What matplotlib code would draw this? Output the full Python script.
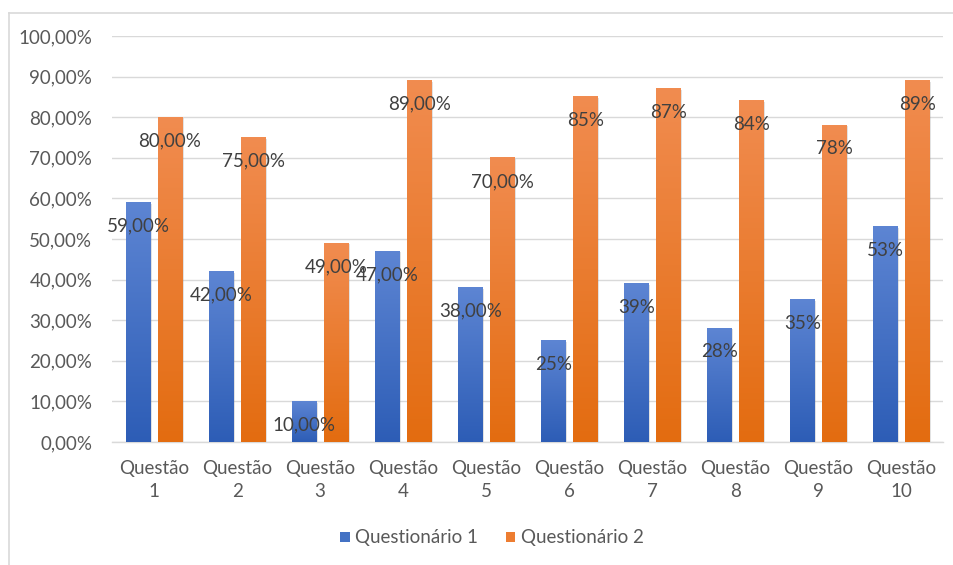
import numpy as np
import matplotlib
matplotlib.use("Agg")
import matplotlib.pyplot as plt
from matplotlib.colors import LinearSegmentedColormap
from matplotlib.lines import Line2D
from matplotlib.patches import Patch
import matplotlib.patheffects as pe

plt.rcParams['font.family'] = ['Lato', 'DejaVu Sans']

categories = ["Questão\n1", "Questão\n2", "Questão\n3", "Questão\n4", "Questão\n5",
              "Questão\n6", "Questão\n7", "Questão\n8", "Questão\n9", "Questão\n10"]
q1 = [0.59, 0.42, 0.10, 0.47, 0.38, 0.25, 0.39, 0.28, 0.35, 0.53]
q2 = [0.80, 0.75, 0.49, 0.89, 0.70, 0.85, 0.87, 0.84, 0.78, 0.89]
labels_q1 = ["59,00%", "42,00%", "10,00%", "47,00%", "38,00%", "25%", "39%", "28%", "35%", "53%"]
labels_q2 = ["80,00%", "75,00%", "49,00%", "89,00%", "70,00%", "85%", "87%", "84%", "78%", "89%"]
yticks = [0.0, 0.1, 0.2, 0.3, 0.4, 0.5, 0.6, 0.7, 0.8, 0.9, 1.0]
ytick_labels = ["0,00%", "10,00%", "20,00%", "30,00%", "40,00%", "50,00%",
                "60,00%", "70,00%", "80,00%", "90,00%", "100,00%"]
series_names = ["Questionário 1", "Questionário 2"]

FS = 13.5
W, H = 954, 565
fig = plt.figure(figsize=(W / 100, H / 100), dpi=100)
ax = fig.add_axes([112.5 / W, 1 - 442 / H, (943 - 112.5) / W, (442 - 36) / H])

x = np.arange(len(categories))
bw = 0.30
off = 0.193

shadow = [pe.SimplePatchShadow(offset=(1.0, -0.8), shadow_rgbFace='#8c8c8c', alpha=0.25), pe.Normal()]
b1 = ax.bar(x - off, q1, bw, color='#4472C4', zorder=2, path_effects=shadow)
b2 = ax.bar(x + off, q2, bw, color='#ED7D31', zorder=2, path_effects=shadow)

def grad(bars, bottom, top):
    cmap = LinearSegmentedColormap.from_list('g', [bottom, top])
    g = np.linspace(0, 1, 256).reshape(-1, 1)
    for b in bars:
        bx, by, w, h = b.get_x(), b.get_y(), b.get_width(), b.get_height()
        ax.imshow(g, extent=[bx, bx + w, by, by + h], origin='lower', cmap=cmap,
                  aspect='auto', zorder=3, interpolation='bilinear')

grad(b1, '#2D5DB6', '#5D85D3')
grad(b2, '#E36C10', '#F18C50')
ax.set_xlim(-0.5, len(categories) - 0.5)
ax.set_ylim(0, 1.0)

for bars, labs in ((b1, labels_q1), (b2, labels_q2)):
    for b, lab in zip(bars, labs):
        ax.annotate(lab, (b.get_x() + b.get_width() / 2, b.get_height()),
                    xytext=(0, -17), textcoords='offset points', ha='center', va='center',
                    fontsize=FS, color='#404040', zorder=5)

ax.set_yticks(yticks)
ax.set_yticklabels(ytick_labels)
ax.set_xticks(x)
ax.set_xticklabels(categories, linespacing=1.4)
ax.tick_params(axis='both', length=0, labelsize=FS, labelcolor='#595959')
ax.tick_params(axis='y', pad=14.5)
ax.tick_params(axis='x', pad=13)
ax.grid(axis='y', color='#D9D9D9', linewidth=1.0, zorder=0)
ax.set_axisbelow(True)
for s in ('top', 'right', 'left'):
    ax.spines[s].set_visible(False)
ax.spines['bottom'].set_color('#D9D9D9')
ax.spines['bottom'].set_linewidth(1.0)

handles = [Patch(facecolor='#4472C4'), Patch(facecolor='#ED7D31')]
fig.legend(handles, series_names, loc='center', bbox_to_anchor=(492 / W, 1 - 538 / H),
           ncol=2, frameon=False, fontsize=FS, labelcolor='#595959',
           handlelength=0.5, handleheight=0.5, handletextpad=0.3, columnspacing=1.45)

# outer chart border
fig.add_artist(Line2D([9 / W, 9 / W], [1 - 13 / H, 0], transform=fig.transFigure,
                      color='#D9D9D9', linewidth=1.2))
fig.add_artist(Line2D([9 / W, 1], [1 - 13 / H, 1 - 13 / H], transform=fig.transFigure,
                      color='#D9D9D9', linewidth=1.2))

fig.savefig('out.png', dpi=100)
